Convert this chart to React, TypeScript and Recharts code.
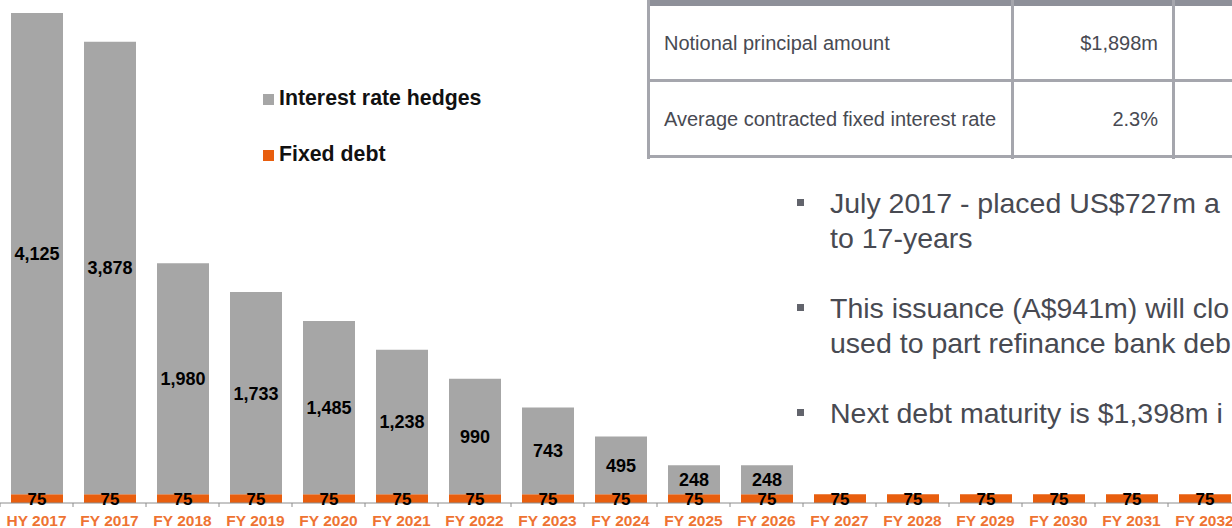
import React from "react";
import { Bar, BarChart, LabelList, Legend, XAxis, YAxis } from "recharts";

const categories = [
  "HY 2017", "FY 2017", "FY 2018", "FY 2019", "FY 2020", "FY 2021", "FY 2022", "FY 2023", "FY 2024",
  "FY 2025", "FY 2026", "FY 2027", "FY 2028", "FY 2029", "FY 2030", "FY 2031", "FY 2032",
];
const interestRateHedges = [4125, 3878, 1980, 1733, 1485, 1238, 990, 743, 495, 248, 248, 0, 0, 0, 0, 0, 0];
const fixedDebt = [75, 75, 75, 75, 75, 75, 75, 75, 75, 75, 75, 75, 75, 75, 75, 75, 75];

const tableRows = [
  ["Notional principal amount", "$1,898m"],
  ["Average contracted fixed interest rate", "2.3%"],
];

const bullets = [
  ["July 2017 - placed US$727m a", "to 17-years"],
  ["This issuance (A$941m) will clo", "used to part refinance bank deb"],
  ["Next debt maturity is $1,398m i"],
];

const FONT = "'Liberation Sans', Arial, sans-serif";
const GREY = "#a6a6a6";
const ORANGE = "#e85e0e";
const TICK_ORANGE = "#ee7332";
const TEXT = "#484a52";
const RULE = "#a5a6ad";

const CHART_W = 1241;
const CHART_H = 528;
const BAND = CHART_W / categories.length;

const data = categories.map((name, i) => ({
  name,
  hedges: interestRateHedges[i],
  fixed: fixedDebt[i],
}));

const fmt = (v: any) => (v ? Number(v).toLocaleString("en-US") : "");

function CategoryTick({ x, y, payload }: any) {
  return (
    <g>
      <line x1={x - BAND / 2} x2={x - BAND / 2} y1={y - 4} y2={y} stroke="#8c8c8c" />
      <text
        x={x}
        y={y + 19}
        textAnchor="middle"
        fill={TICK_ORANGE}
        fontWeight={700}
        fontSize={15.5}
        fontFamily={FONT}
      >
        {payload.value}
      </text>
    </g>
  );
}

function LegendBox() {
  const items = [
    { label: "Interest rate hedges", color: GREY },
    { label: "Fixed debt", color: ORANGE },
  ];
  return (
    <div style={{ fontFamily: FONT }}>
      {items.map((it) => (
        <div key={it.label} style={{ display: "flex", alignItems: "center", height: 56 }}>
          <span style={{ width: 11, height: 11, background: it.color, marginRight: 5, marginTop: 2 }} />
          <span style={{ fontSize: 21.3, fontWeight: 700, color: "#111" }}>{it.label}</span>
        </div>
      ))}
    </div>
  );
}

export default function App() {
  return (
    <div
      style={{
        position: "fixed",
        left: 0,
        top: 0,
        width: 1232,
        height: 528,
        overflow: "hidden",
        background: "#fff",
        fontFamily: FONT,
      }}
    >
      <BarChart
        width={CHART_W}
        height={CHART_H}
        data={data}
        margin={{ top: 13, right: 0, bottom: 0, left: 0 }}
        barSize={52}
      >
        <YAxis hide domain={[0, 4200]} allowDataOverflow ticks={[0, 4200]} />
        <XAxis
          dataKey="name"
          height={25}
          interval={0}
          tickSize={4}
          tickMargin={0}
          tickLine={false}
          axisLine={{ stroke: "#8c8c8c" }}
          tick={<CategoryTick />}
        />
        {/* middle + centre alignment keeps the legend from reserving plot space */}
        <Legend
          layout="horizontal"
          verticalAlign="middle"
          align="center"
          content={<LegendBox />}
          wrapperStyle={{ left: 263, top: 70, width: 260 }}
        />
        <Bar dataKey="fixed" name="Fixed debt" stackId="a" fill={ORANGE} isAnimationActive={false}>
          <LabelList
            dataKey="fixed"
            position="center"
            formatter={fmt}
            fill="#000"
            fontWeight={700}
            fontSize={17}
            fontFamily={FONT}
          />
        </Bar>
        <Bar dataKey="hedges" name="Interest rate hedges" stackId="a" fill={GREY} isAnimationActive={false}>
          <LabelList
            dataKey="hedges"
            position="center"
            formatter={fmt}
            fill="#000"
            fontWeight={700}
            fontSize={18}
            fontFamily={FONT}
          />
        </Bar>
      </BarChart>

      {/* summary table, cropped at the top and right edge */}
      <div style={{ position: "absolute", left: 647, top: 0, width: 700, height: 160 }}>
        <div style={{ position: "absolute", left: 0, top: 0, width: 700, height: 6, background: "#8e9099" }} />
        {tableRows.map((row, i) => (
          <div
            key={row[0]}
            style={{
              position: "absolute",
              left: 0,
              top: 6 + i * 76,
              width: 700,
              height: 76,
              borderBottom: `3px solid ${RULE}`,
              boxSizing: "border-box",
              fontSize: 20,
              color: TEXT,
            }}
          >
            <div style={{ position: "absolute", left: 17, top: 26 }}>{row[0]}</div>
            <div style={{ position: "absolute", left: 364, width: 147, top: 26, textAlign: "right" }}>{row[1]}</div>
          </div>
        ))}
        {[0, 364, 525].map((x) => (
          <div key={x} style={{ position: "absolute", left: x, top: 0, width: 3, height: 159, background: RULE }} />
        ))}
      </div>

      {/* bullet points */}
      <div style={{ position: "absolute", left: 797, top: 186, width: 900, color: TEXT, fontSize: 28.5 }}>
        {bullets.map((lines, i) => (
          <div key={i} style={{ position: "relative", paddingLeft: 33, marginBottom: 35, lineHeight: "35px" }}>
            <span
              style={{
                position: "absolute",
                left: 0,
                top: 13,
                width: 7,
                height: 7,
                background: "#62646c",
              }}
            />
            {lines.map((l) => (
              <div key={l} style={{ whiteSpace: "nowrap" }}>
                {l}
              </div>
            ))}
          </div>
        ))}
      </div>
    </div>
  );
}
